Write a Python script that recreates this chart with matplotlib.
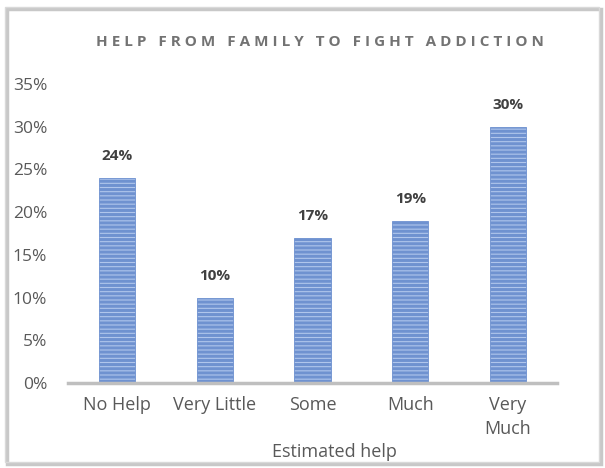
import matplotlib.pyplot as plt
from matplotlib.patches import Rectangle

# help categories and share of respondents
categories = ["No Help", "Very Little", "Some", "Much", "Very\nMuch"]
shares = [24, 10, 17, 19, 30]
yticks = [0, 5, 10, 15, 20, 25, 30, 35]

plt.rcParams['font.family'] = ['Open Sans', 'DejaVu Sans']
plt.rcParams['hatch.color'] = '#4472c4'
plt.rcParams['hatch.linewidth'] = 2.2

fig = plt.figure(figsize=(6.05, 4.68), dpi=100)
ax = fig.add_axes([0.1124, 0.1816, 0.808, 0.639])

x = range(len(categories))
ax.bar(x, shares, width=0.37, color='#b0c6ec', edgecolor='#6f92d0',
       linewidth=0.6, hatch='----', zorder=2)

for xi, v in zip(x, shares):
    ax.text(xi, v + 1.7, f"{v}%", ha='center', va='bottom',
            fontsize=11, fontweight='bold', color='#404040')

ax.set_xlim(-0.5, len(categories) - 0.5)
ax.set_ylim(0, 35)
ax.set_yticks(yticks)
ax.set_yticklabels([f"{t}%" for t in yticks], fontsize=12.5, color='#595959')
ax.set_xticks(list(x))
ax.set_xticklabels(categories, fontsize=13, color='#595959', linespacing=1.45)
ax.tick_params(length=0)
ax.tick_params(axis='x', pad=9)
ax.tick_params(axis='y', pad=15)
for s in ['top', 'right', 'left']:
    ax.spines[s].set_visible(False)
ax.spines['bottom'].set_color('#bfbfbf')
ax.spines['bottom'].set_linewidth(2.5)

fig.text(0.553, 0.034, "Estimated help", ha='center', va='center',
         fontsize=13, color='#595959')

title = "   ".join(" ".join(w) for w in "HELP FROM FAMILY TO FIGHT ADDICTION".split())
fig.text(0.529, 0.910, title, ha='center', va='center', fontsize=11,
         fontweight='bold', color='#737373')

# outer frame with soft shadow
fig.patches.append(Rectangle((0.012, 0.008), 0.982, 0.972, transform=fig.transFigure,
                             fill=False, edgecolor='#c8c8c8', linewidth=2.5))
fig.patches.append(Rectangle((0.008, 0.012), 0.982, 0.972, transform=fig.transFigure,
                             fill=False, edgecolor='#d9d9d9', linewidth=1))

fig.savefig('out.png', dpi=100)
